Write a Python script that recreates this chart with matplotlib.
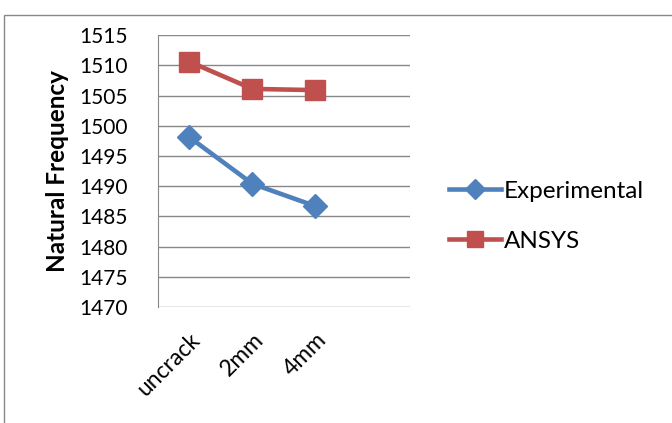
import matplotlib.pyplot as plt
from matplotlib.patches import Rectangle

plt.rcParams['font.family'] = ['Lato', 'DejaVu Sans']

cases = ['uncrack', '2mm', '4mm']
experimental = [1498.1, 1490.4, 1486.7]
ansys = [1510.6, 1506.1, 1505.9]
y_ticks = [1470, 1475, 1480, 1485, 1490, 1495, 1500, 1505, 1510, 1515]

fig = plt.figure(figsize=(6.72, 4.23), dpi=100)
ax = fig.add_axes([0.235, 0.274, 0.375, 0.643])

x = range(len(cases))
ax.plot(x, experimental, color='#4F81BD', lw=3.3, marker='D', markersize=12,
        label='Experimental')
ax.plot(x, ansys, color='#C0504D', lw=3.3, marker='s', markersize=14,
        label='ANSYS')

ax.set_xlim(-0.5, 3.5)
ax.set_ylim(1470, 1515)
ax.set_yticks(y_ticks)
ax.set_xticks(list(x))
ax.set_xticklabels(cases, rotation=45, ha='right', rotation_mode='anchor')
ax.tick_params(axis='y', length=0, pad=22, labelsize=15)
ax.tick_params(axis='x', length=0, pad=16, labelsize=16.5)
ax.grid(True, axis='y', color='#888888', lw=1)
ax.set_axisbelow(True)
for s in ['top', 'right', 'bottom']:
    ax.spines[s].set_visible(False)
ax.spines['left'].set_color('#888888')
ax.set_ylabel('Natural Frequency', fontsize=17.5, fontweight='bold', labelpad=7)

fig.legend(loc='center left', bbox_to_anchor=(0.668, 0.489), frameon=False,
           fontsize=17.5, handlelength=2.15, labelspacing=1.2, handletextpad=0.1,
           borderpad=0, borderaxespad=0, markerscale=0.85)

# chart frame
fig.patches.append(Rectangle((4 / 672, -0.01), 1.2, 1 - 15 / 423 + 0.01,
                             transform=fig.transFigure, fill=False,
                             edgecolor='#888888', lw=1))

fig.savefig('out.png')
